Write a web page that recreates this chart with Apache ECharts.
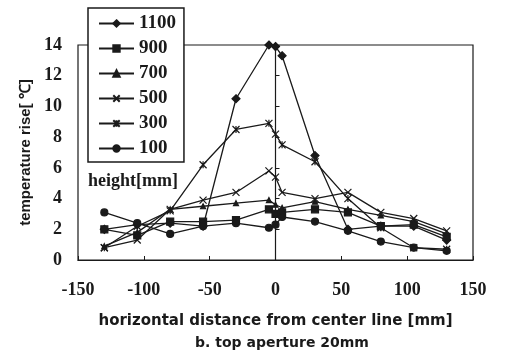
<!DOCTYPE html>
<html>
<head>
<meta charset="utf-8">
<script src="https://cdn.jsdelivr.net/npm/echarts@6/dist/echarts.min.js"></script>
<style>
  html, body { margin: 0; padding: 0; background: #fff; }
  #chart { width: 506px; height: 356px; }
</style>
</head>
<body>
<div id="chart"></div>
<script>
  // horizontal distance from center line [mm]
  var xPositions = [-130, -105, -80, -55, -30, -5, 0, 5, 30, 55, 80, 105, 130];

  // temperature rise, one array per height [mm]
  var h1100 = [2.0, 2.3, 2.4, 2.2, 10.5, 14.0, 13.9, 13.3, 6.8, 2.0, 2.2, 2.2, 1.3];
  var h900 = [2.0, 1.6, 2.5, 2.5, 2.6, 3.3, 3.0, 3.1, 3.3, 3.1, 2.2, 2.3, 1.5];
  var h700 = [0.9, 1.8, 3.3, 3.5, 3.7, 3.9, 3.6, 3.4, 3.8, 3.3, 2.9, 2.5, 1.7];
  var h500 = [0.8, 1.3, 3.3, 3.9, 4.4, 5.8, 5.4, 4.4, 4.0, 4.4, 3.1, 2.7, 1.9];
  var h300 = [0.8, 2.2, 3.2, 6.2, 8.5, 8.9, 8.2, 7.5, 6.4, 4.0, 2.1, 0.8, 0.7];
  var h100 = [3.1, 2.4, 1.7, 2.2, 2.4, 2.1, 2.3, 2.8, 2.5, 1.9, 1.2, 0.8, 0.6];

  var seriesNames = ['1100', '900', '700', '500', '300', '100'];
  var seriesValues = [h1100, h900, h700, h500, h300, h100];

  var markers = [
    {symbol: 'diamond', size: 8},
    {symbol: 'rect', size: 7},
    {symbol: 'triangle', size: 5},
    {symbol: 'path://M0,0L10,10M10,0L0,10', size: 7},
    {symbol: 'path://M0,0L10,10M10,0L0,10M5,0L5,10', size: 7},
    {symbol: 'circle', size: 7}
  ];

  var ink = '#1a1a1a';
  var serif = '"Liberation Serif", "Times New Roman", serif';
  var sans = '"Liberation Sans", Arial, sans-serif';
  var wide = '"DejaVu Sans", Verdana, sans-serif';

  function pairUp(values) {
    var out = [];
    for (var i = 0; i < values.length; i++) {
      out.push([xPositions[i], values[i]]);
    }
    return out;
  }

  var series = [];
  for (var i = 0; i < seriesNames.length; i++) {
    series.push({
      name: seriesNames[i],
      type: 'line',
      data: pairUp(seriesValues[i]),
      symbol: markers[i].symbol,
      symbolSize: markers[i].size,
      showAllSymbol: true,
      lineStyle: {color: ink, width: 1.3},
      itemStyle: {color: ink, borderColor: ink, borderWidth: 1.2},
      emphasis: {disabled: true},
      animation: false
    });
  }

  var myChart = echarts.init(document.getElementById('chart'));

  myChart.setOption({
    animation: false,
    grid: {
      left: 78, right: 33, top: 45, bottom: 96,
      show: true, borderColor: ink, borderWidth: 1.2
    },
    legend: {
      orient: 'vertical',
      left: 88,
      top: 8,
      padding: [6, 8, 4, 10],
      itemWidth: 35,
      itemHeight: 8,
      itemGap: 6,
      backgroundColor: '#fff',
      borderColor: ink,
      borderWidth: 1.5,
      textStyle: {fontFamily: serif, fontWeight: 'bold', fontSize: 19, color: ink},
      data: seriesNames
    },
    xAxis: {
      type: 'value',
      min: -150, max: 150, interval: 50,
      axisLine: {lineStyle: {color: ink, width: 1.2}},
      axisTick: {inside: true, length: 4, lineStyle: {color: ink}},
      splitLine: {show: false},
      axisLabel: {margin: 21, fontFamily: serif, fontWeight: 'bold', fontSize: 18, color: ink},
      name: 'horizontal distance from center line [mm]',
      nameLocation: 'middle',
      nameGap: 54,
      nameTextStyle: {fontFamily: wide, fontWeight: 'bold', fontSize: 15, color: ink}
    },
    yAxis: {
      type: 'value',
      min: 0, max: 14, interval: 2,
      axisLine: {show: true, lineStyle: {color: ink, width: 1.2}},
      axisTick: {show: true, inside: true, length: 4, lineStyle: {color: ink}},
      splitLine: {show: false},
      axisLabel: {margin: 16, fontFamily: serif, fontWeight: 'bold', fontSize: 18, color: ink},
      name: 'temperature rise[ ℃]',
      nameLocation: 'middle',
      nameGap: 42,
      nameTextStyle: {fontFamily: sans, fontWeight: 'bold', fontSize: 15, color: ink}
    },
    graphic: [
      {
        type: 'text', left: 88, top: 172,
        style: {text: 'height[mm]', font: 'bold 18px ' + serif, fill: ink}
      },
      {
        type: 'text', x: 282, y: 343,
        style: {
          text: 'b. top aperture 20mm', font: 'bold 14px ' + wide, fill: ink,
          align: 'center', verticalAlign: 'middle'
        }
      }
    ],
    series: series
  });
</script>
</body>
</html>
